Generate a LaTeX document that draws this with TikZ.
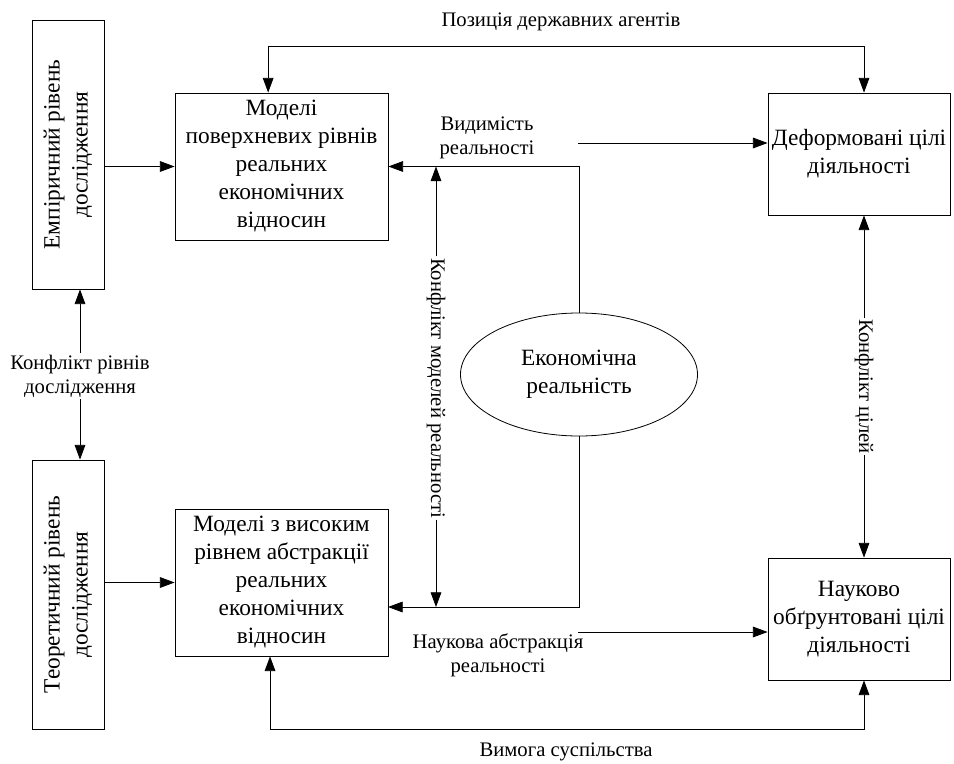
\documentclass[tikz,border=0pt]{standalone}
\usepackage{fontspec}
\setmainfont{Liberation Serif}
\usetikzlibrary{arrows.meta,shapes.geometric,positioning}

\begin{document}
\begin{tikzpicture}[
  x=0.75pt, y=-0.75pt,
  block/.style={draw, line width=0.6pt, align=center, inner sep=2pt, font=\fontsize{17.5}{21}\selectfont},
  level/.style={block, rotate=90, minimum width=201.75pt, minimum height=54pt},
  model/.style={block, minimum width=159.75pt, minimum height=110.25pt},
  goal/.style={block, minimum width=136.5pt, minimum height=91.5pt},
  reality/.style={block, ellipse, minimum width=177.75pt, minimum height=92.25pt},
  lbl/.style={align=center, inner sep=1pt, font=\fontsize{15.5}{18}\selectfont},
  >={Triangle[length=11pt,width=8pt]},
  line width=0.6pt
]
  \useasboundingbox (0,0) rectangle (954,764);

  % Research levels (rotated, so south is the right side)
  \node[level] (emp) at (68,154.5) {Емпіричний рівень\\дослідження};
  \node[level] (theor) at (68,594.5) {Теоретичний рівень\\дослідження};

  % Models
  \node[model] (surf) at (281.5,166.5) {Моделі\\поверхневих рівнів\\реальних\\економічних\\відносин};
  \node[model] (abstr) at (281.5,582.5) {Моделі з високим\\рівнем абстракції\\реальних\\економічних\\відносин};

  % Goals
  \node[goal] (deform) at (859,154) {Деформовані цілі\\діяльності};
  \node[goal] (sci) at (859,619) {Науково\\обґрунтовані цілі\\діяльності};

  % Reality
  \node[reality] (econ) at (579,374.5) {Економічна\\реальність};

  % Labels
  \node[lbl] (pos) at (561,22) {Позиція державних агентів};
  \node[lbl] (vis) at (487,138) {Видимість\\реальності};
  \node[lbl] (sabs) at (498,655) {Наукова абстракція\\реальності};
  \node[lbl] (dem) at (566,752) {Вимога суспільства};
  \node[lbl] (lev) at (80,376) {Конфлікт рівнів\\дослідження};
  \node[lbl, rotate=-90] (mconf) at (436,388) {Конфлікт моделей реальності};
  \node[lbl, rotate=-90] (gconf) at (864,386.5) {Конфлікт цілей};

  \coordinate (abstrIn) at (388,607);
  \coordinate (visIn) at (578,143);
  \coordinate (absIn) at (578,632);

  % Arrows
  \draw[->] (emp.south |- surf.west) -- (surf.west);
  \draw[->] (theor.south |- abstr.west) -- (abstr.west);
  \draw[->] (lev) -- (emp.west -| lev);
  \draw[->] (lev) -- (theor.east -| lev);

  \draw[->] (econ.north) |- (surf.east);
  \draw[->] (econ.south) |- (abstrIn);
  \draw[->] (mconf) -- (mconf |- surf.east);
  \draw[->] (mconf) -- (mconf |- abstrIn);

  \draw[->] (visIn) -- (visIn -| deform.west);
  \draw[->] (absIn) -- (absIn -| sci.west);
  \draw[->] (gconf) -- (gconf |- deform.south);
  \draw[->] (gconf) -- (gconf |- sci.north);

  \draw[<->] ([xshift=-10pt]surf.north) -- ++(0,-46) -| (gconf |- deform.north);
  \draw[<->] ([xshift=-8.6pt]abstr.south) -- ++(0,73) -| (gconf |- sci.south);
\end{tikzpicture}
\end{document}
